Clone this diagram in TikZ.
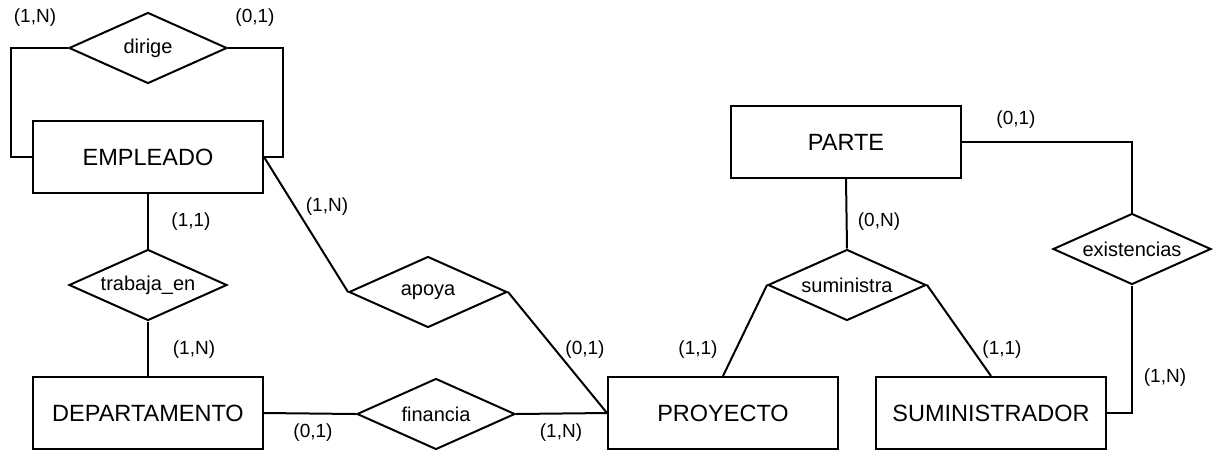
\documentclass[tikz,border=0pt]{standalone}
\usepackage{fontspec}
\setmainfont{Liberation Sans}
\usetikzlibrary{shapes.geometric}
\tikzset{
  entidad/.style={draw,rectangle,minimum width=115pt,minimum height=36pt,inner sep=0pt,font=\fontsize{11.75}{13}\selectfont},
  relacion/.style={draw,diamond,aspect=2.2,minimum width=79pt,minimum height=35.5pt,inner sep=0pt,font=\fontsize{10}{12}\selectfont},
  card/.style={inner sep=0pt,font=\fontsize{9.5}{11}\selectfont}
}
\begin{document}
\begin{tikzpicture}[x=0.5pt,y=-0.5pt,line width=1pt,line join=miter]
				\useasboundingbox (0,0) rectangle (1214,450);
				\node[entidad] (EMP) at (148,157) {EMPLEADO};
				\node[entidad] (DEP) at (148,413) {DEPARTAMENTO};
				\node[entidad] (PRO) at (723,413) {PROYECTO};
				\node[entidad] (SUM) at (991,413) {SUMINISTRADOR};
				\node[entidad] (PAR) at (846,142) {PARTE};
				\node[relacion] (dirige) at (148,48) {dirige};
				\node[relacion] (trabaja) at (148,285) {trabaja\_en};
				\node[relacion] (apoya) at (428,292) {apoya};
				\node[relacion] (financia) at (436,414) {financia};
				\node[relacion] (suministra) at (847,285) {suministra};
				\node[relacion] (existencias) at (1132,249) {existencias};
				\coordinate (DL) at (11,157);
				\coordinate (DR) at (283,157);
				\draw (dirige.west) -| (DL) -- (EMP.west);
				\draw (dirige.east) -| (DR) -- (EMP.east);
				\draw (EMP.south) -- (trabaja.north);
				\draw (trabaja.south) -- (DEP.north);
				\draw (EMP.east) -- (apoya.west);
				\draw (apoya.east) -- (PRO.west);
				\draw (DEP.east) -- (financia.west);
				\draw (financia.east) -- (PRO.west);
				\draw (PAR.south) -- (suministra.north);
				\draw (suministra.west) -- (PRO.north);
				\draw (suministra.east) -- (SUM.north);
				\draw (PAR.east) -| (existencias.north);
				\draw (existencias.south) |- (SUM.east);
				\node[card] (c1) at (35,18) {(1,N)};
				\node[card] (c2) at (255,18) {(0,1)};
				\node[card] (c3) at (191,222) {(1,1)};
				\node[card] (c4) at (194,350) {(1,N)};
				\node[card] (c5) at (327,207) {(1,N)};
				\node[card] (c6) at (585,350) {(0,1)};
				\node[card] (c7) at (313,433) {(0,1)};
				\node[card] (c8) at (561,433) {(1,N)};
				\node[card] (c9) at (698,350) {(1,1)};
				\node[card] (c10) at (879,222) {(0,N)};
				\node[card] (c11) at (1002,350) {(1,1)};
				\node[card] (c12) at (1016,120) {(0,1)};
				\node[card] (c13) at (1165,378) {(1,N)};
			\end{tikzpicture}
\end{document}
